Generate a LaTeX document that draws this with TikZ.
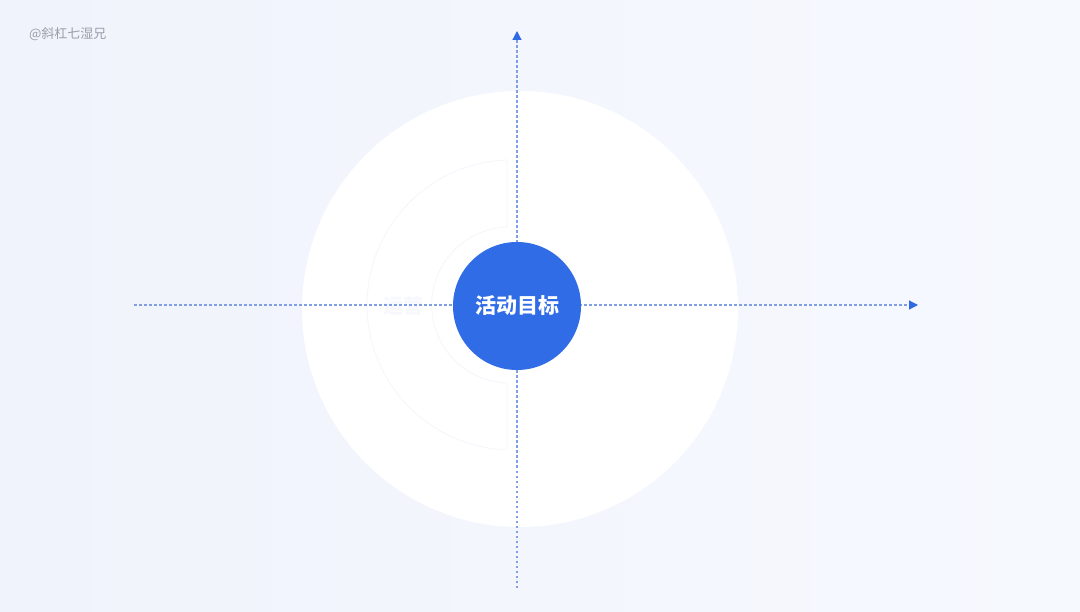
\documentclass[tikz,border=0pt]{standalone}
\usepackage{fontspec}
\newfontfamily\cjk{Noto Sans CJK SC}
\usetikzlibrary{arrows.meta}
\definecolor{bgA}{HTML}{F1F3FC}
\definecolor{bgB}{HTML}{F6F9FE}
\definecolor{axisblue}{HTML}{7F9EE6}
\definecolor{tipblue}{HTML}{2F6AE4}
\definecolor{goalblue}{HTML}{2F6CE5}
\definecolor{faint}{HTML}{F4F6FC}
\definecolor{fainttext}{HTML}{F7F8FD}
\definecolor{credit}{HTML}{9A9EA9}
\tikzset{
  axisline/.style={draw=axisblue, line width=1.2pt, dash pattern=on 2.5pt off 2.5pt,
    -{Triangle[length=9pt,width=9pt,fill=tipblue,color=tipblue]}},
  goalnode/.style={circle, fill=goalblue, minimum size=128pt, inner sep=0pt,
    text=white, font=\cjk\bfseries\fontsize{21pt}{25pt}\selectfont},
}
\begin{document}
\begin{tikzpicture}[x=1pt,y=-1pt]
\useasboundingbox (0,0) rectangle (1080,612);
\shade[left color=bgA, right color=bgB] (0,0) rectangle (1080,612);
% big white disc
\fill[white] (520,309) circle (218);
% faint half ring on the left
\draw[faint, line width=0.8pt]
  (507,160) arc[start angle=-92, end angle=-268, radius=145] -- (507,383)
  arc[start angle=92, end angle=268, radius=78] -- cycle;
\node[text=fainttext, font=\cjk\bfseries\fontsize{20pt}{24pt}\selectfont] (op) at (403,306) {运营};
% credit
\node[anchor=west, text=credit, font=\cjk\fontsize{13pt}{15pt}\selectfont, inner sep=0pt] (credit) at (29,34) {@斜杠七湿兄};
% axes
\coordinate (xl) at (134,305);
\coordinate (xr) at (918,305);
\coordinate (yb) at (517,588);
\coordinate (yt) at (517,31);
\draw[axisline] (xl) -- (xr);
\draw[axisline] (yb) -- (yt);
% centre goal
\node[goalnode] (goal) at (517,306) {活动目标};
\end{tikzpicture}
\end{document}
